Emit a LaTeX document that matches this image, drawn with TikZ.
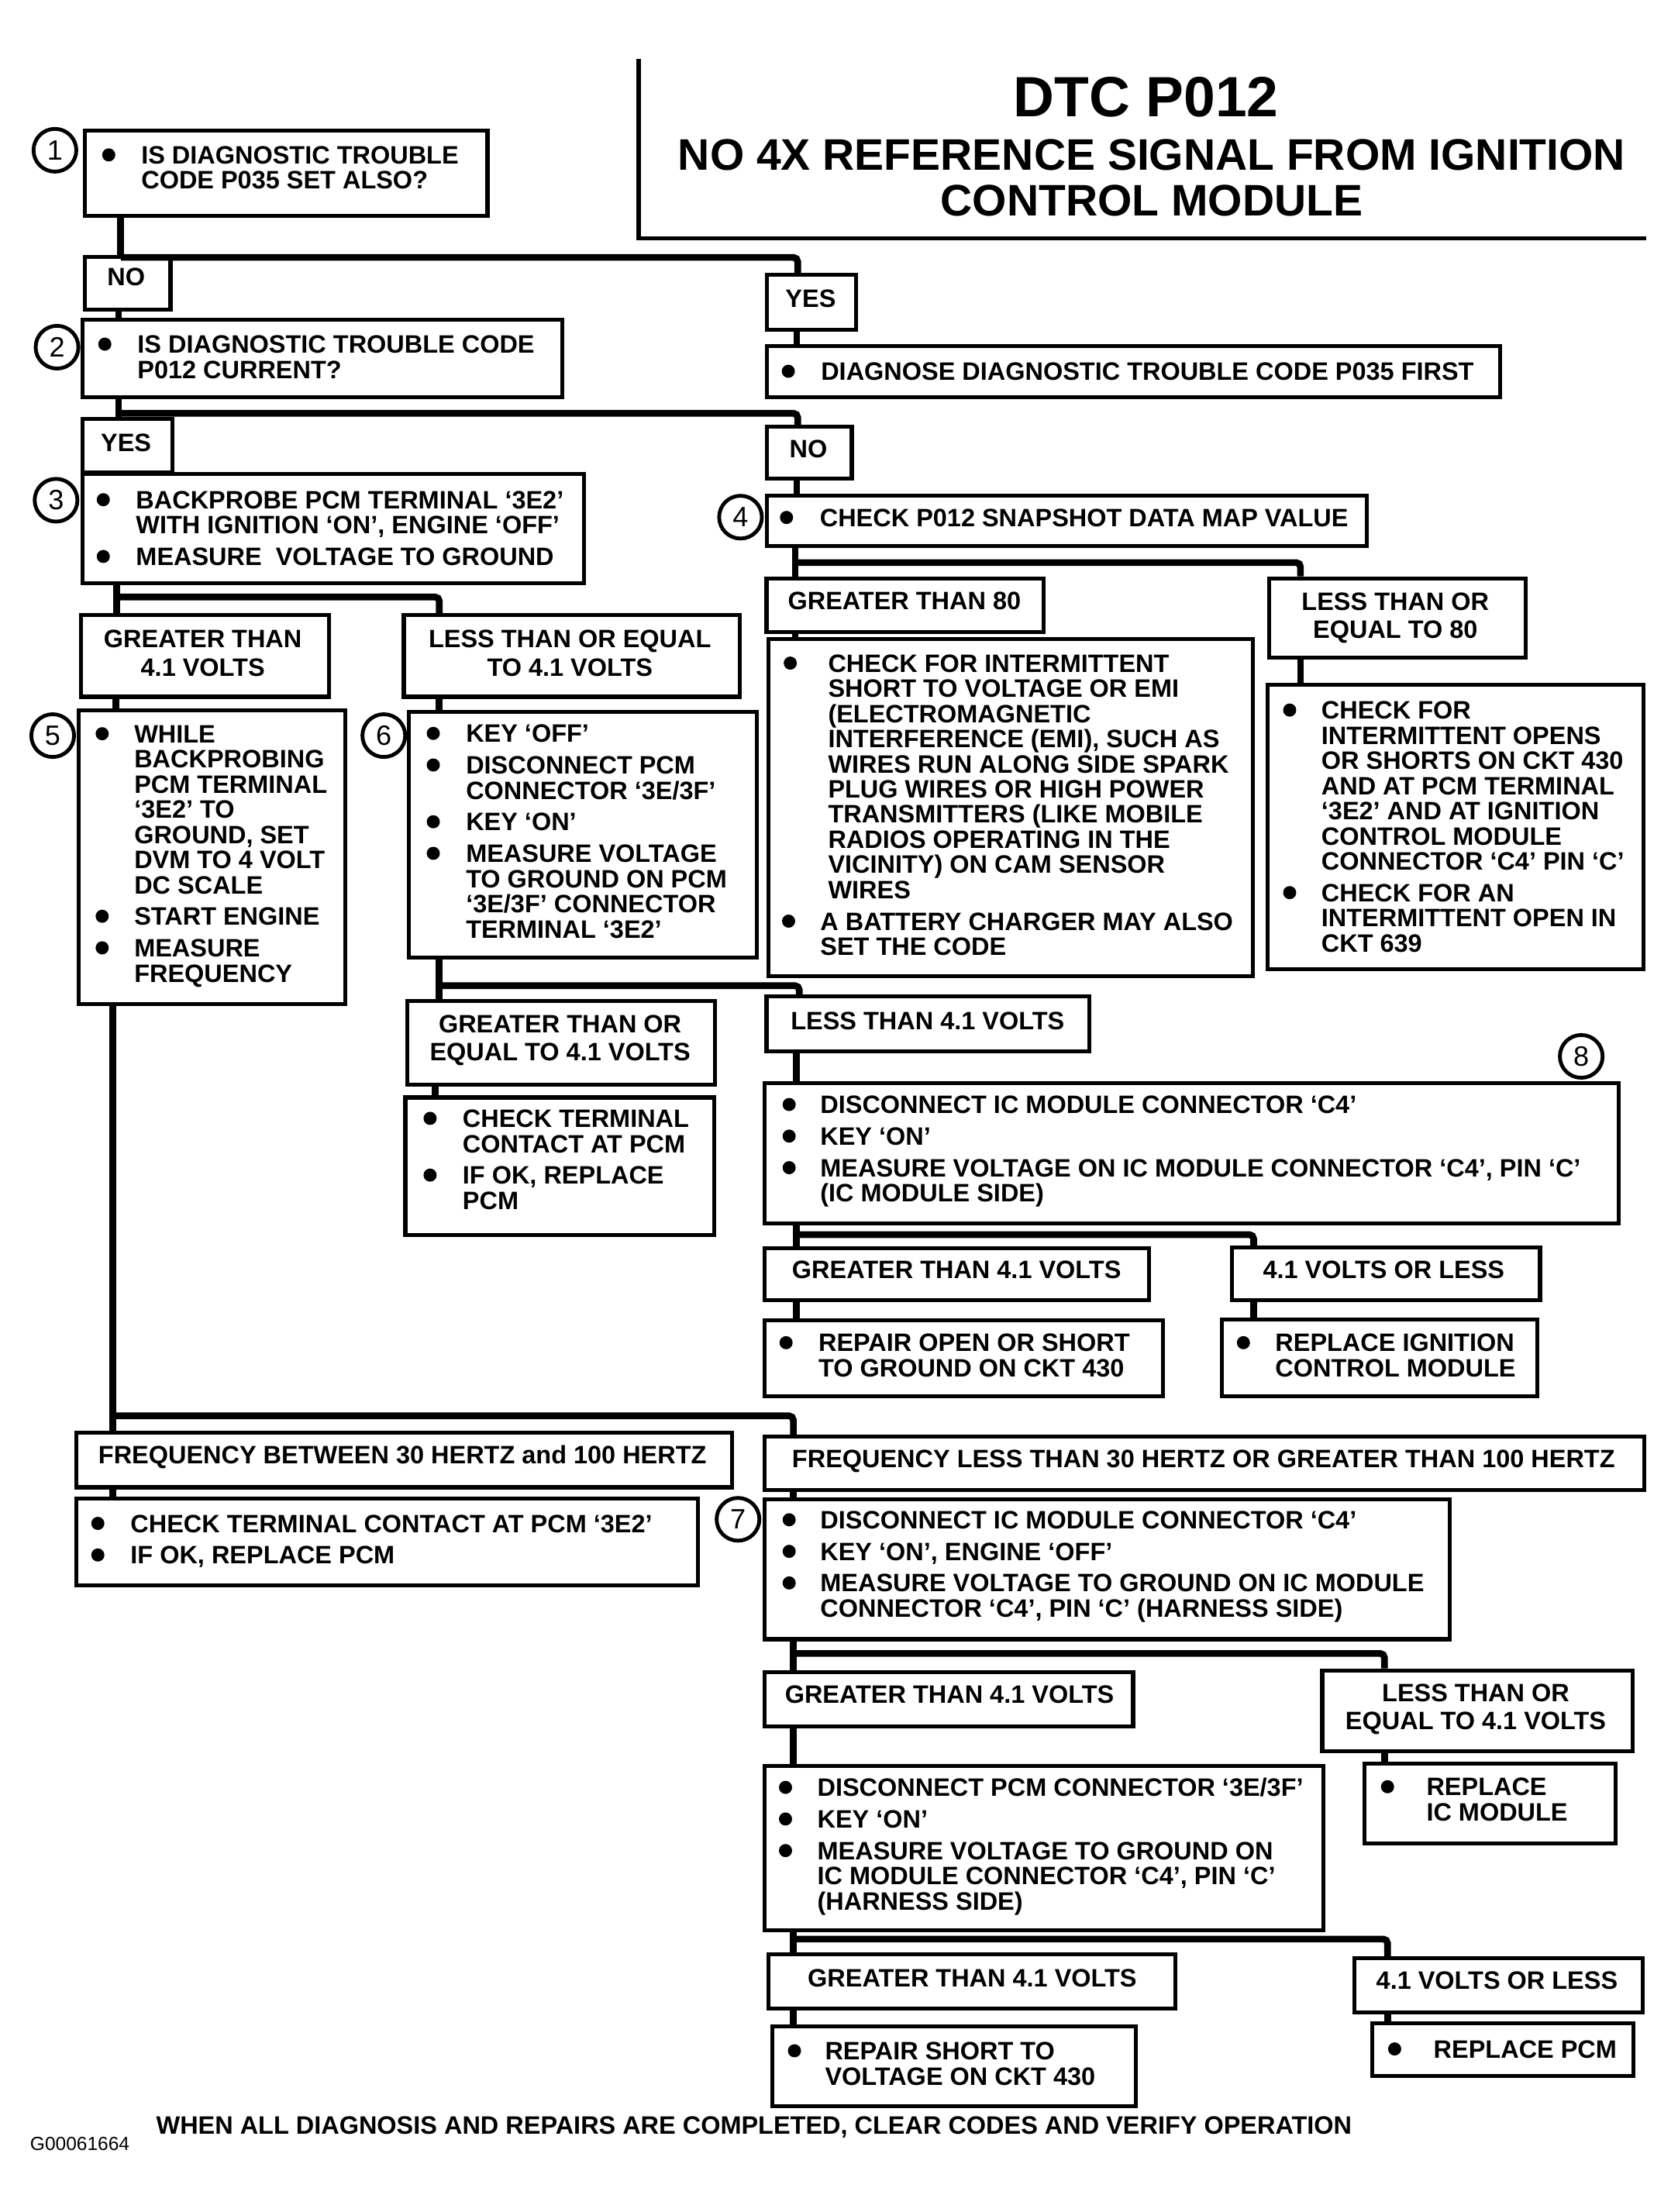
\documentclass[tikz,border=0pt]{standalone}
\usepackage{fontspec}
\setmainfont{Liberation Sans}
\def\bdist{23}
\newcommand\dotb{\tikz[baseline=0pt]\fill (0pt,3.22pt) circle (2.35pt);}
\newcommand\bud[1]{\llap{\dotb\hspace{\dimexpr #1pt/2-2.35pt\relax}}}
\newcommand\bu{\bud{\bdist}}
\tikzset{
 boxst/.style={draw, line width=1.4pt, inner sep=0pt, anchor=north west},
 conn/.style={line width=2.4pt, rounded corners=1.5pt},
 circ/.style={circle, draw, line width=1.35pt, minimum size=15.3pt, inner sep=0pt, font=\fontsize{10}{10}\selectfont},
 txt/.style={inner sep=0pt, outer sep=0pt, align=left, anchor=north west, font=\bfseries\fontsize{9}{9}\selectfont},
 lab/.style={inner sep=0pt, anchor=base west, font=\bfseries\fontsize{9}{9}\selectfont},
 labc/.style={inner sep=0pt, anchor=base, font=\bfseries\fontsize{9}{9}\selectfont},
 lab2/.style={inner sep=0pt, align=center, anchor=north, font=\bfseries\fontsize{9}{10}\selectfont},
 ttl/.style={inner sep=0pt, anchor=base},
}
\newcommand\bx[5]{\node[boxst, minimum width={(#4-#2)*0.5pt}, minimum height={(#5-#3)*0.5pt}] (#1) at (#2,#3) {};}
\newcommand\tx[5]{\def\bdist{#4}\node[txt] (#1) at (#2,{#3-6.5}) {#5};}
\begin{document}
\begin{tikzpicture}[x=0.5pt,y=-0.5pt]
\useasboundingbox (0,0) rectangle (1200,1582.6);
% title
\draw[line width=1.5pt] (457,42) -- (457,170.5) -- (1178,170.5);
\node[ttl, font=\bfseries\fontsize{20.3}{20.3}\selectfont] (t1) at (820,83.5) {DTC P012};
\node[ttl, font=\bfseries\fontsize{15.8}{15.8}\selectfont] (t2) at (824,121.7) {NO 4X REFERENCE SIGNAL FROM IGNITION};
\node[ttl, font=\bfseries\fontsize{15.8}{15.8}\selectfont] (t3) at (824,154.2) {CONTROL MODULE};
% boxes
\bx{b1}{59.1}{92}{347.4}{152.8}
\bx{noA}{59.1}{182.5}{120.6}{220.1}
\bx{b2}{57.6}{227.2}{400.7}{282.9}
\bx{yesB}{57.6}{298.5}{121.8}{336.7}
\bx{b3}{57.6}{337.5}{416.2}{415.9}
\bx{yesA}{547.3}{195.2}{611.3}{234.3}
\bx{diag}{547.3}{246.1}{1072}{282.9}
\bx{noB}{547.3}{304.1}{608}{340.9}
\bx{b4}{547.3}{353.1}{976.5}{389}
\bx{gt80}{547}{412.4}{745}{450.8}
\bx{leq80}{906.4}{412.4}{1090.1}{469.3}
\bx{emi}{548.3}{455.7}{895.2}{697.1}
\bx{leqc}{905.5}{488.6}{1174.3}{692.1}
\bx{gt41a}{56.8}{438.8}{233.8}{497.1}
\bx{leq41a}{287.5}{438.8}{527.9}{497.1}
\bx{b5}{54.8}{506.8}{245.5}{716.9}
\bx{b6}{291}{508}{540}{683.8}
\bx{ge41}{289.8}{715}{510}{774.5}
\bx{chk1}{288.6}{783.8}{509.6}{882.2}
\bx{lt41}{547}{711.6}{778}{750.6}
\bx{b8}{545.7}{773.4}{1156.7}{873.8}
\bx{gt41b}{545.7}{891.9}{820.5}{928.8}
\bx{ol41b}{880.2}{891}{1100.4}{928.8}
\bx{rep1}{545.7}{943.4}{830.8}{997.5}
\bx{repign}{872.9}{942.6}{1098.7}{997.5}
\bx{fb}{53.3}{1023.8}{522.4}{1062.7}
\bx{fl}{545.7}{1026.3}{1175.2}{1064.9}
\bx{chk2}{53.3}{1070.5}{497.9}{1132.7}
\bx{b7}{545.7}{1071.4}{1035.6}{1171.4}
\bx{gt41c}{545.7}{1195}{809.3}{1233.7}
\bx{leq41c}{944.6}{1193.7}{1166.6}{1251.7}
\bx{dpcm}{545.7}{1262.3}{945.4}{1379.6}
\bx{repic}{974.6}{1260.6}{1154.5}{1317.3}
\bx{gt41d}{548.3}{1396.7}{839.4}{1435.4}
\bx{ol41d}{967.8}{1399.8}{1173.9}{1438.4}
\bx{rep2}{551.3}{1448.3}{811}{1505.4}
\bx{reppcm}{980.6}{1446.1}{1167.4}{1483.9}
% step numbers
\node[circ] (st1) at (39.3,107.5) {1};
\node[circ] (st2) at (40.8,248.4) {2};
\node[circ] (st3) at (40.1,357.9) {3};
\node[circ] (st4) at (529.8,370) {4};
\node[circ] (st5) at (37.7,526.3) {5};
\node[circ] (st6) at (274.6,526.3) {6};
\node[circ] (st7) at (528,1087) {7};
\node[circ] (st8) at (1131.3,755.8) {8};
% bullet texts
\tx{b1t}{101.1}{111.2}{23.3}{\bu IS DIAGNOSTIC TROUBLE\\CODE P035 SET ALSO?}
\tx{b2t}{98.4}{246.6}{23.4}{\bu IS DIAGNOSTIC TROUBLE CODE\\P012 CURRENT?}
\tx{diagt}{587.4}{266}{23.4}{\bu DIAGNOSE DIAGNOSTIC TROUBLE CODE P035 FIRST}
\tx{b3t}{97.3}{357.9}{23.4}{\bu BACKPROBE PCM TERMINAL ‘3E2’\\WITH IGNITION ‘ON’, ENGINE ‘OFF’\\[2.3pt]\bu MEASURE\hspace{2.5pt} VOLTAGE TO GROUND}
\tx{b4t}{586.6}{370.6}{23.9}{\bu CHECK P012 SNAPSHOT DATA MAP VALUE}
\tx{emit}{592.5}{474.8}{27.1}{\bu CHECK FOR INTERMITTENT\\SHORT TO VOLTAGE OR EMI\\(ELECTROMAGNETIC\\INTERFERENCE (EMI), SUCH AS\\WIRES RUN ALONG SIDE SPARK\\PLUG WIRES OR HIGH POWER\\TRANSMITTERS (LIKE MOBILE\\RADIOS OPERATING IN THE\\VICINITY) ON CAM SENSOR\\WIRES\\[2.3pt]\hspace*{-2.8pt}\bud{22.7}A BATTERY CHARGER MAY ALSO\\\hspace*{-2.8pt}SET THE CODE}
\tx{leqct}{945.4}{508.4}{22.7}{\bu CHECK FOR\\INTERMITTENT OPENS\\OR SHORTS ON CKT 430\\AND AT PCM TERMINAL\\‘3E2’ AND AT IGNITION\\CONTROL MODULE\\CONNECTOR ‘C4’ PIN ‘C’\\[2.3pt]\bu CHECK FOR AN\\INTERMITTENT OPEN IN\\CKT 639}
\tx{b5t}{96.1}{525.5}{23}{\bu WHILE\\BACKPROBING\\PCM TERMINAL\\‘3E2’ TO\\GROUND, SET\\DVM TO 4 VOLT\\DC SCALE\\[2.3pt]\bu START ENGINE\\[2.3pt]\bu MEASURE\\FREQUENCY}
\tx{b6t}{333.4}{525.1}{23.4}{\bu KEY ‘OFF’\\[2.3pt]\bu DISCONNECT PCM\\CONNECTOR ‘3E/3F’\\[2.3pt]\bu KEY ‘ON’\\[2.3pt]\bu MEASURE VOLTAGE\\TO GROUND ON PCM\\‘3E/3F’ CONNECTOR\\TERMINAL ‘3E2’}
\tx{chk1t}{331}{800.5}{23.3}{\bu CHECK TERMINAL\\CONTACT AT PCM\\[2.3pt]\bu IF OK, REPLACE\\PCM}
\tx{b8t}{586.9}{790.6}{22.3}{\bu DISCONNECT IC MODULE CONNECTOR ‘C4’\\[2.3pt]\bu KEY ‘ON’\\[2.3pt]\bu MEASURE VOLTAGE ON IC MODULE CONNECTOR ‘C4’, PIN ‘C’\\(IC MODULE SIDE)}
\tx{rep1t}{585.6}{961}{23.2}{\bu REPAIR OPEN OR SHORT\\TO GROUND ON CKT 430}
\tx{repignt}{912.4}{961}{22.8}{\bu REPLACE IGNITION\\CONTROL MODULE}
\tx{chk2t}{93.4}{1090.3}{23.4}{\bu CHECK TERMINAL CONTACT AT PCM ‘3E2’\\[2.3pt]\bu IF OK, REPLACE PCM}
\tx{b7t}{586.9}{1087.7}{22.3}{\bu DISCONNECT IC MODULE CONNECTOR ‘C4’\\[2.3pt]\bu KEY ‘ON’, ENGINE ‘OFF’\\[2.3pt]\bu MEASURE VOLTAGE TO GROUND ON IC MODULE\\CONNECTOR ‘C4’, PIN ‘C’ (HARNESS SIDE)}
\tx{dpcmt}{584.8}{1278.7}{22.8}{\bu DISCONNECT PCM CONNECTOR ‘3E/3F’\\[2.3pt]\bu KEY ‘ON’\\[2.3pt]\bu MEASURE VOLTAGE TO GROUND ON\\IC MODULE CONNECTOR ‘C4’, PIN ‘C’\\(HARNESS SIDE)}
\tx{repict}{1020.6}{1278.7}{27.9}{\bu REPLACE\\IC MODULE}
\tx{rep2t}{590.3}{1467.6}{21.9}{\bu REPAIR SHORT TO\\VOLTAGE ON CKT 430}
\tx{reppcmt}{1025.7}{1466.3}{27.9}{\bu REPLACE PCM}
% labels
\node[labc] (noAt) at (90.2,204.5) {NO};
\node[labc] (yesBt) at (90.2,322.8) {YES};
\node[labc] (yesAt) at (580,220.1) {YES};
\node[labc] (noBt) at (578.4,327.6) {NO};
\node[lab] (gt80t) at (563.3,436.2) {GREATER THAN 80};
\node[lab2] (leq80t) at (998.3,423.7) {LESS THAN OR\\EQUAL TO 80};
\node[lab2] (gt41at) at (145.1,450.6) {GREATER THAN\\4.1 VOLTS};
\node[lab2] (leq41at) at (407.7,450.6) {LESS THAN OR EQUAL\\TO 4.1 VOLTS};
\node[lab2] (ge41t) at (400.7,726) {GREATER THAN OR\\EQUAL TO 4.1 VOLTS};
\node[lab] (lt41t) at (565.4,736.5) {LESS THAN 4.1 VOLTS};
\node[lab] (gt41bt) at (566.3,914.7) {GREATER THAN 4.1 VOLTS};
\node[labc] (ol41bt) at (990,914.7) {4.1 VOLTS OR LESS};
\node[lab] (fbt) at (70,1047.3) {FREQUENCY BETWEEN 30 HERTZ and 100 HERTZ};
\node[lab] (flt) at (566.3,1049.9) {FREQUENCY LESS THAN 30 HERTZ OR GREATER THAN 100 HERTZ};
\node[lab] (gt41ct) at (561.2,1218.7) {GREATER THAN 4.1 VOLTS};
\node[lab2] (leq41ct) at (1055.8,1204.4) {LESS THAN OR\\EQUAL TO 4.1 VOLTS};
\node[lab] (gt41dt) at (577.5,1421.3) {GREATER THAN 4.1 VOLTS};
\node[labc] (ol41dt) at (1071,1423.4) {4.1 VOLTS OR LESS};
\node[lab] (foot) at (111.4,1527) {WHEN ALL DIAGNOSIS AND REPAIRS ARE COMPLETED, CLEAR CODES AND VERIFY OPERATION};
\node[inner sep=0pt, anchor=base west, font=\fontsize{6.8}{6.8}\selectfont] (gnum) at (21.2,1538.3) {G00061664};
% connectors
\coordinate (k1) at (86.4,184.2); \coordinate (j1) at (570.7,184.2);
\draw[conn] (b1.south -| k1) -- (noA.north -| k1);
\draw[conn] (k1) -- (j1) -- (yesA.north -| j1);
\coordinate (k2) at (84.8,0);
\draw[conn] (noA.south -| k2) -- (b2.north -| k2);
\coordinate (k3) at (84.8,295.7); \coordinate (j3) at (570.7,295.7);
\draw[conn] (b2.south -| k3) -- (yesB.north -| k3);
\draw[conn] (k3) -- (j3) -- (noB.north -| j3);
\coordinate (k4) at (570,0);
\draw[conn] (yesA.south -| k4) -- (diag.north -| k4);
\draw[conn] (noB.south -| k4) -- (b4.north -| k4);
\coordinate (k6) at (568.9,402.5); \coordinate (j6) at (930.4,402.5);
\draw[conn] (b4.south -| k6) -- (gt80.north -| k6);
\draw[conn] (k6) -- (j6) -- (leq80.north -| j6);
\draw[conn] (gt80.south -| k6) -- (emi.north -| k6);
\draw[conn] (leq80.south -| j6) -- (leqc.north -| j6);
\coordinate (k9) at (83.6,427.1); \coordinate (j9) at (314.3,427.1);
\draw[conn] (b3.south -| k9) -- (gt41a.north -| k9);
\draw[conn] (k9) -- (j9) -- (leq41a.north -| j9);
\coordinate (k10) at (82.9,0);
\draw[conn] (gt41a.south -| k10) -- (b5.north -| k10);
\draw[conn] (leq41a.south -| j9) -- (b6.north -| j9);
\coordinate (k12) at (314.3,705.2); \coordinate (j12) at (571.8,705.2);
\draw[conn] (b6.south -| k12) -- (ge41.north -| k12);
\draw[conn] (k12) -- (j12) -- (lt41.north -| j12);
\coordinate (k13) at (311.2,0);
\draw[conn] (ge41.south -| k13) -- (chk1.north -| k13);
\coordinate (k14) at (569.7,0);
\draw[conn] (lt41.south -| k14) -- (b8.north -| k14);
\coordinate (k15) at (569.7,883.3); \coordinate (j15) at (896.9,883.3);
\draw[conn] (b8.south -| k15) -- (gt41b.north -| k15);
\draw[conn] (k15) -- (j15) -- (ol41b.north -| j15);
\draw[conn] (gt41b.south -| k15) -- (rep1.north -| k15);
\draw[conn] (ol41b.south -| j15) -- (repign.north -| j15);
\coordinate (k18) at (80.5,1013); \coordinate (j18) at (567.6,1013);
\draw[conn] (b5.south -| k18) -- (fb.north -| k18);
\draw[conn] (k18) -- (j18) -- (fl.north -| j18);
\draw[conn] (fb.south -| k18) -- (chk2.north -| k18);
\draw[conn] (fl.south -| j18) -- (b7.north -| j18);
\coordinate (k21) at (567.6,1183); \coordinate (j21) at (990.5,1183);
\draw[conn] (b7.south -| k21) -- (gt41c.north -| k21);
\draw[conn] (k21) -- (j21) -- (leq41c.north -| j21);
\draw[conn] (gt41c.south -| k21) -- (dpcm.north -| k21);
\draw[conn] (leq41c.south -| j21) -- (repic.north -| j21);
\coordinate (k24) at (567.6,1387.3); \coordinate (j24) at (992.7,1387.3);
\draw[conn] (dpcm.south -| k24) -- (gt41d.north -| k24);
\draw[conn] (k24) -- (j24) -- (ol41d.north -| j24);
\draw[conn] (gt41d.south -| k24) -- (rep2.north -| k24);
\draw[conn] (ol41d.south -| j24) -- (reppcm.north -| j24);
\end{tikzpicture}
\end{document}
